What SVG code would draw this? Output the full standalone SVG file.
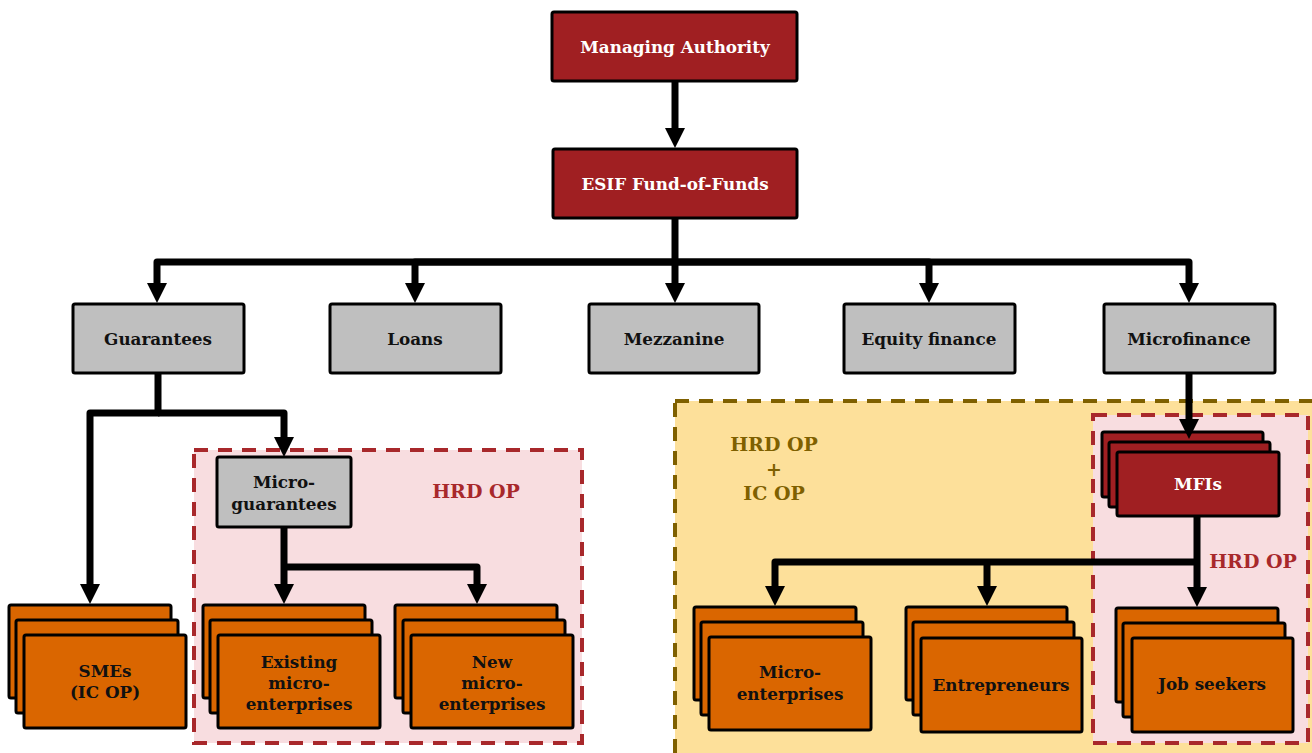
<svg xmlns="http://www.w3.org/2000/svg" width="1312" height="753" viewBox="0 0 1312 753">
  <style>
    text { font-family: "DejaVu Serif", "Liberation Serif", serif; font-weight: bold; text-anchor: middle; }
    .lbl { font-size: 16.8px; }
    .red { fill: #a01f22; stroke: #000; stroke-width: 3; }
    .grey { fill: #bfbfbf; stroke: #000; stroke-width: 3; }
    .org { fill: #da6600; stroke: #000; stroke-width: 3; }
    .wt { fill: #ffffff; }
    .bk { fill: #111111; }
    .zone-ic { fill: #fde09a; stroke: #7f6000; stroke-width: 4; stroke-dasharray: 14 10; }
    .zone-hrd { fill: #f8dde0; stroke: #a8282b; stroke-width: 4; stroke-dasharray: 14 10; }
    .ztxt-ic { fill: #7f6000; font-size: 19px; }
    .ztxt-hrd { fill: #a8282b; font-size: 19px; }
    .wire { fill: none; stroke: #000; stroke-width: 7; stroke-linejoin: round; marker-end: url(#ah); }
    .wire-plain { fill: none; stroke: #000; stroke-width: 7; stroke-linejoin: round; }
  </style>
  <defs>
    <marker id="ah" markerUnits="userSpaceOnUse" markerWidth="21" markerHeight="22" viewBox="0 -11 21 22" refX="1" refY="0" orient="auto">
      <path d="M0,-10 L20,0 L0,10 z" fill="#000"/>
    </marker>
  </defs>

  <rect width="1312" height="753" fill="#ffffff"/>

  <!-- programme zones -->
  <g id="zone-hrd-ic">
    <rect class="zone-ic" x="675" y="401" width="660" height="380"/>
    <text class="ztxt-ic" x="774" y="451">HRD OP</text>
    <text class="ztxt-ic" x="774" y="476">+</text>
    <text class="ztxt-ic" x="774" y="500">IC OP</text>
  </g>
  <g id="zone-hrd-right">
    <rect class="zone-hrd" x="1093" y="415" width="215" height="328"/>
    <text class="ztxt-hrd" x="1253" y="568">HRD OP</text>
  </g>
  <g id="zone-hrd-left">
    <rect class="zone-hrd" x="194" y="450" width="388" height="293"/>
    <text class="ztxt-hrd" x="476" y="498">HRD OP</text>
  </g>

  <!-- top level -->
  <g id="managing-authority">
    <rect class="red" x="552" y="12" width="245" height="69" rx="2"/>
    <text class="lbl wt" x="675" y="53">Managing Authority</text>
  </g>
  <g id="fund-of-funds">
    <rect class="red" x="553" y="149" width="244" height="69" rx="2"/>
    <text class="lbl wt" x="675" y="190">ESIF Fund-of-Funds</text>
  </g>

  <!-- instruments -->
  <g id="guarantees">
    <rect class="grey" x="73" y="304" width="171" height="69" rx="2"/>
    <text class="lbl bk" x="158" y="345">Guarantees</text>
  </g>
  <g id="loans">
    <rect class="grey" x="330" y="304" width="171" height="69" rx="2"/>
    <text class="lbl bk" x="415" y="345">Loans</text>
  </g>
  <g id="mezzanine">
    <rect class="grey" x="589" y="304" width="170" height="69" rx="2"/>
    <text class="lbl bk" x="674" y="345">Mezzanine</text>
  </g>
  <g id="equity-finance">
    <rect class="grey" x="844" y="304" width="171" height="69" rx="2"/>
    <text class="lbl bk" x="929" y="345">Equity finance</text>
  </g>
  <g id="microfinance">
    <rect class="grey" x="1104" y="304" width="171" height="69" rx="2"/>
    <text class="lbl bk" x="1189" y="345">Microfinance</text>
  </g>

  <!-- intermediaries -->
  <g id="micro-guarantees">
    <rect class="grey" x="217" y="457" width="134" height="70" rx="2"/>
    <text class="lbl bk" x="284" y="488">Micro-</text>
    <text class="lbl bk" x="284" y="510">guarantees</text>
  </g>
  <g id="mfis">
    <rect class="red" x="1102" y="432" width="161" height="65" rx="2"/>
    <rect class="red" x="1109" y="442" width="161" height="65" rx="2"/>
    <rect class="red" x="1117" y="452" width="162" height="64" rx="2"/>
    <text class="lbl wt" x="1198" y="490">MFIs</text>
  </g>

  <!-- final recipients -->
  <g id="smes">
    <rect class="org" x="9" y="605" width="162" height="93" rx="2"/>
    <rect class="org" x="16" y="620" width="162" height="93" rx="2"/>
    <rect class="org" x="24" y="635" width="162" height="93" rx="2"/>
    <text class="lbl bk" x="105" y="677">SMEs</text>
    <text class="lbl bk" x="105" y="698">(IC OP)</text>
  </g>
  <g id="existing-micro-enterprises">
    <rect class="org" x="203" y="605" width="162" height="93" rx="2"/>
    <rect class="org" x="210" y="620" width="162" height="93" rx="2"/>
    <rect class="org" x="218" y="635" width="162" height="93" rx="2"/>
    <text class="lbl bk" x="299" y="668">Existing</text>
    <text class="lbl bk" x="299" y="689">micro-</text>
    <text class="lbl bk" x="299" y="710">enterprises</text>
  </g>
  <g id="new-micro-enterprises">
    <rect class="org" x="395" y="605" width="162" height="93" rx="2"/>
    <rect class="org" x="403" y="620" width="162" height="93" rx="2"/>
    <rect class="org" x="411" y="635" width="162" height="93" rx="2"/>
    <text class="lbl bk" x="492" y="668">New</text>
    <text class="lbl bk" x="492" y="689">micro-</text>
    <text class="lbl bk" x="492" y="710">enterprises</text>
  </g>
  <g id="micro-enterprises">
    <rect class="org" x="694" y="607" width="162" height="93" rx="2"/>
    <rect class="org" x="701" y="622" width="162" height="93" rx="2"/>
    <rect class="org" x="709" y="637" width="162" height="93" rx="2"/>
    <text class="lbl bk" x="790" y="678">Micro-</text>
    <text class="lbl bk" x="790" y="700">enterprises</text>
  </g>
  <g id="entrepreneurs">
    <rect class="org" x="906" y="607" width="161" height="93" rx="2"/>
    <rect class="org" x="913" y="622" width="161" height="93" rx="2"/>
    <rect class="org" x="921" y="638" width="161" height="94" rx="2"/>
    <text class="lbl bk" x="1001" y="691">Entrepreneurs</text>
  </g>
  <g id="job-seekers">
    <rect class="org" x="1116" y="608" width="162" height="94" rx="2"/>
    <rect class="org" x="1123" y="623" width="162" height="94" rx="2"/>
    <rect class="org" x="1132" y="638" width="161" height="94" rx="2"/>
    <text class="lbl bk" x="1212" y="690">Job seekers</text>
  </g>

  <!-- connectors -->
  <g id="connectors">
    <path class="wire" d="M675,81 V129"/>
    <path class="wire-plain" d="M675,218 V262"/>
    <path class="wire" d="M675,262 H157 V284"/>
    <path class="wire" d="M675,262 H415 V284"/>
    <path class="wire" d="M675,262 V284"/>
    <path class="wire" d="M675,262 H929 V284"/>
    <path class="wire" d="M675,262 H1189 V284"/>

    <path class="wire" d="M158,373 V413 H90 V585"/>
    <path class="wire" d="M158,413 H284 V438"/>

    <path class="wire" d="M284,527 V585"/>
    <path class="wire" d="M284,567 H477 V585"/>

    <path class="wire" d="M1189,373 V420"/>

    <path class="wire" d="M1197,516 V588"/>
    <path class="wire" d="M1197,562 H775 V587"/>
    <path class="wire" d="M987,562 V587"/>
  </g>
</svg>
